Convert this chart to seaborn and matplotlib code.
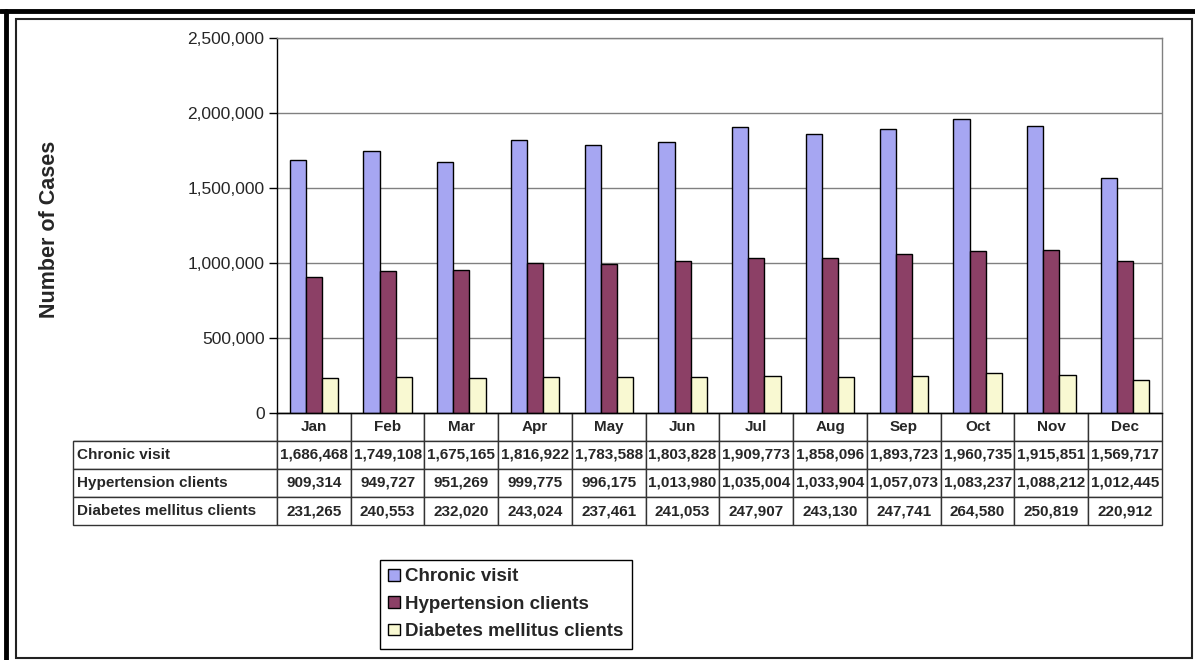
import numpy as np
import pandas as pd
import seaborn as sns
import matplotlib.pyplot as plt
from matplotlib.lines import Line2D
from matplotlib.patches import Rectangle
from matplotlib.ticker import FuncFormatter, MultipleLocator

months = ['Jan', 'Feb', 'Mar', 'Apr', 'May', 'Jun', 'Jul', 'Aug', 'Sep', 'Oct', 'Nov', 'Dec']
series = ['Chronic visit', 'Hypertension clients', 'Diabetes mellitus clients']
chronic = [1686468, 1749108, 1675165, 1816922, 1783588, 1803828,
           1909773, 1858096, 1893723, 1960735, 1915851, 1569717]
hypertension = [909314, 949727, 951269, 999775, 996175, 1013980,
                1035004, 1033904, 1057073, 1083237, 1088212, 1012445]
diabetes = [231265, 240553, 232020, 243024, 237461, 241053,
            247907, 243130, 247741, 264580, 250819, 220912]
colors = ['#9999FF', '#993366', '#FFFFCC']

df = pd.DataFrame({
    'Month': months * 3,
    'Series': [s for s in series for _ in months],
    'Cases': chronic + hypertension + diabetes,
})

sns.set_style('white')
plt.rcParams['font.family'] = ['Liberation Sans', 'DejaVu Sans']

W, H = 1195, 660
fig = plt.figure(figsize=(W / 100, H / 100), dpi=100)
ax = fig.add_axes([277 / W, 1 - 413 / H, (1162 - 277) / W, (413 - 38) / H])

sns.barplot(data=df, x='Month', y='Cases', hue='Series', palette=colors,
            width=0.66, gap=0, edgecolor='black', linewidth=1, ax=ax)

handles, labels = ax.get_legend_handles_labels()
ax.get_legend().remove()

ax.set_ylim(0, 2500000)
ax.yaxis.set_major_locator(MultipleLocator(500000))
ax.yaxis.set_major_formatter(FuncFormatter(lambda v, p: f'{int(v):,}'))
ax.set_xlim(-0.5, 11.5)
ax.set_xlabel('')
ax.set_ylabel('')
ax.set_xticks([])
ax.set_xticks(np.arange(-0.5, 12, 1), minor=True)
ax.tick_params(axis='x', which='minor', length=6, color='#555555', width=1)
ax.tick_params(axis='y', length=6, color='black', width=1, labelsize=12.5, pad=3, left=True)
ax.grid(axis='y', color='#808080', linewidth=1)
ax.set_axisbelow(True)
for side in ['top', 'right']:
    ax.spines[side].set_color('#808080')
for side in ['left', 'bottom']:
    ax.spines[side].set_color('black')
for s in ax.spines.values():
    s.set_linewidth(1)

fig.text(50 / W, 1 - 229 / H, 'Number of Cases', rotation=90, ha='center', va='center',
         fontsize=15.5, fontweight='bold')

# data table below the axis
cell_text = [[''] + months]
for name, vals in zip(series, [chronic, hypertension, diabetes]):
    cell_text.append([name] + [f'{v:,}' for v in vals])
label_w = 277 - 73
col_w = (1162 - 277) / 12
total_w = label_w + 12 * col_w
tbl_h = (525 - 413) / (413 - 38)
tbl = ax.table(cellText=cell_text, colWidths=[label_w / total_w] + [col_w / total_w] * 12,
               bbox=[-label_w / (1162 - 277), -tbl_h, total_w / (1162 - 277), tbl_h],
               cellLoc='center')
tbl.auto_set_font_size(False)
for (r, c), cell in tbl.get_celld().items():
    cell.set_edgecolor('#333333')
    cell.set_linewidth(1)
    cell.get_text().set_fontweight('bold')
    cell.get_text().set_fontsize(11)
    if c == 0:
        cell.PAD = 0.02
        cell.get_text().set_ha('left')
        cell._loc = 'left'
    if r == 0 and c == 0:
        cell.visible_edges = 'BR'

fig.legend(handles, labels, loc='upper left', bbox_to_anchor=(380 / W, 1 - 560 / H),
           frameon=True, fancybox=False, edgecolor='black', framealpha=1,
           prop={'weight': 'bold', 'size': 13.5}, handlelength=0.6, handleheight=0.6,
           handletextpad=0.3, labelspacing=0.55, borderpad=0.45, borderaxespad=0)

# page frame
fig.add_artist(Line2D([0, 1], [1 - 11 / H, 1 - 11 / H], color='black', linewidth=3.5))
fig.add_artist(Line2D([6.5 / W, 6.5 / W], [0, 1 - 11 / H], color='black', linewidth=3.5))
fig.add_artist(Rectangle((16 / W, 1 - 658 / H), (1192 - 16) / W, (658 - 19) / H,
                         fill=False, edgecolor='#222222', linewidth=1.5))

fig.savefig('out.png', dpi=100)
